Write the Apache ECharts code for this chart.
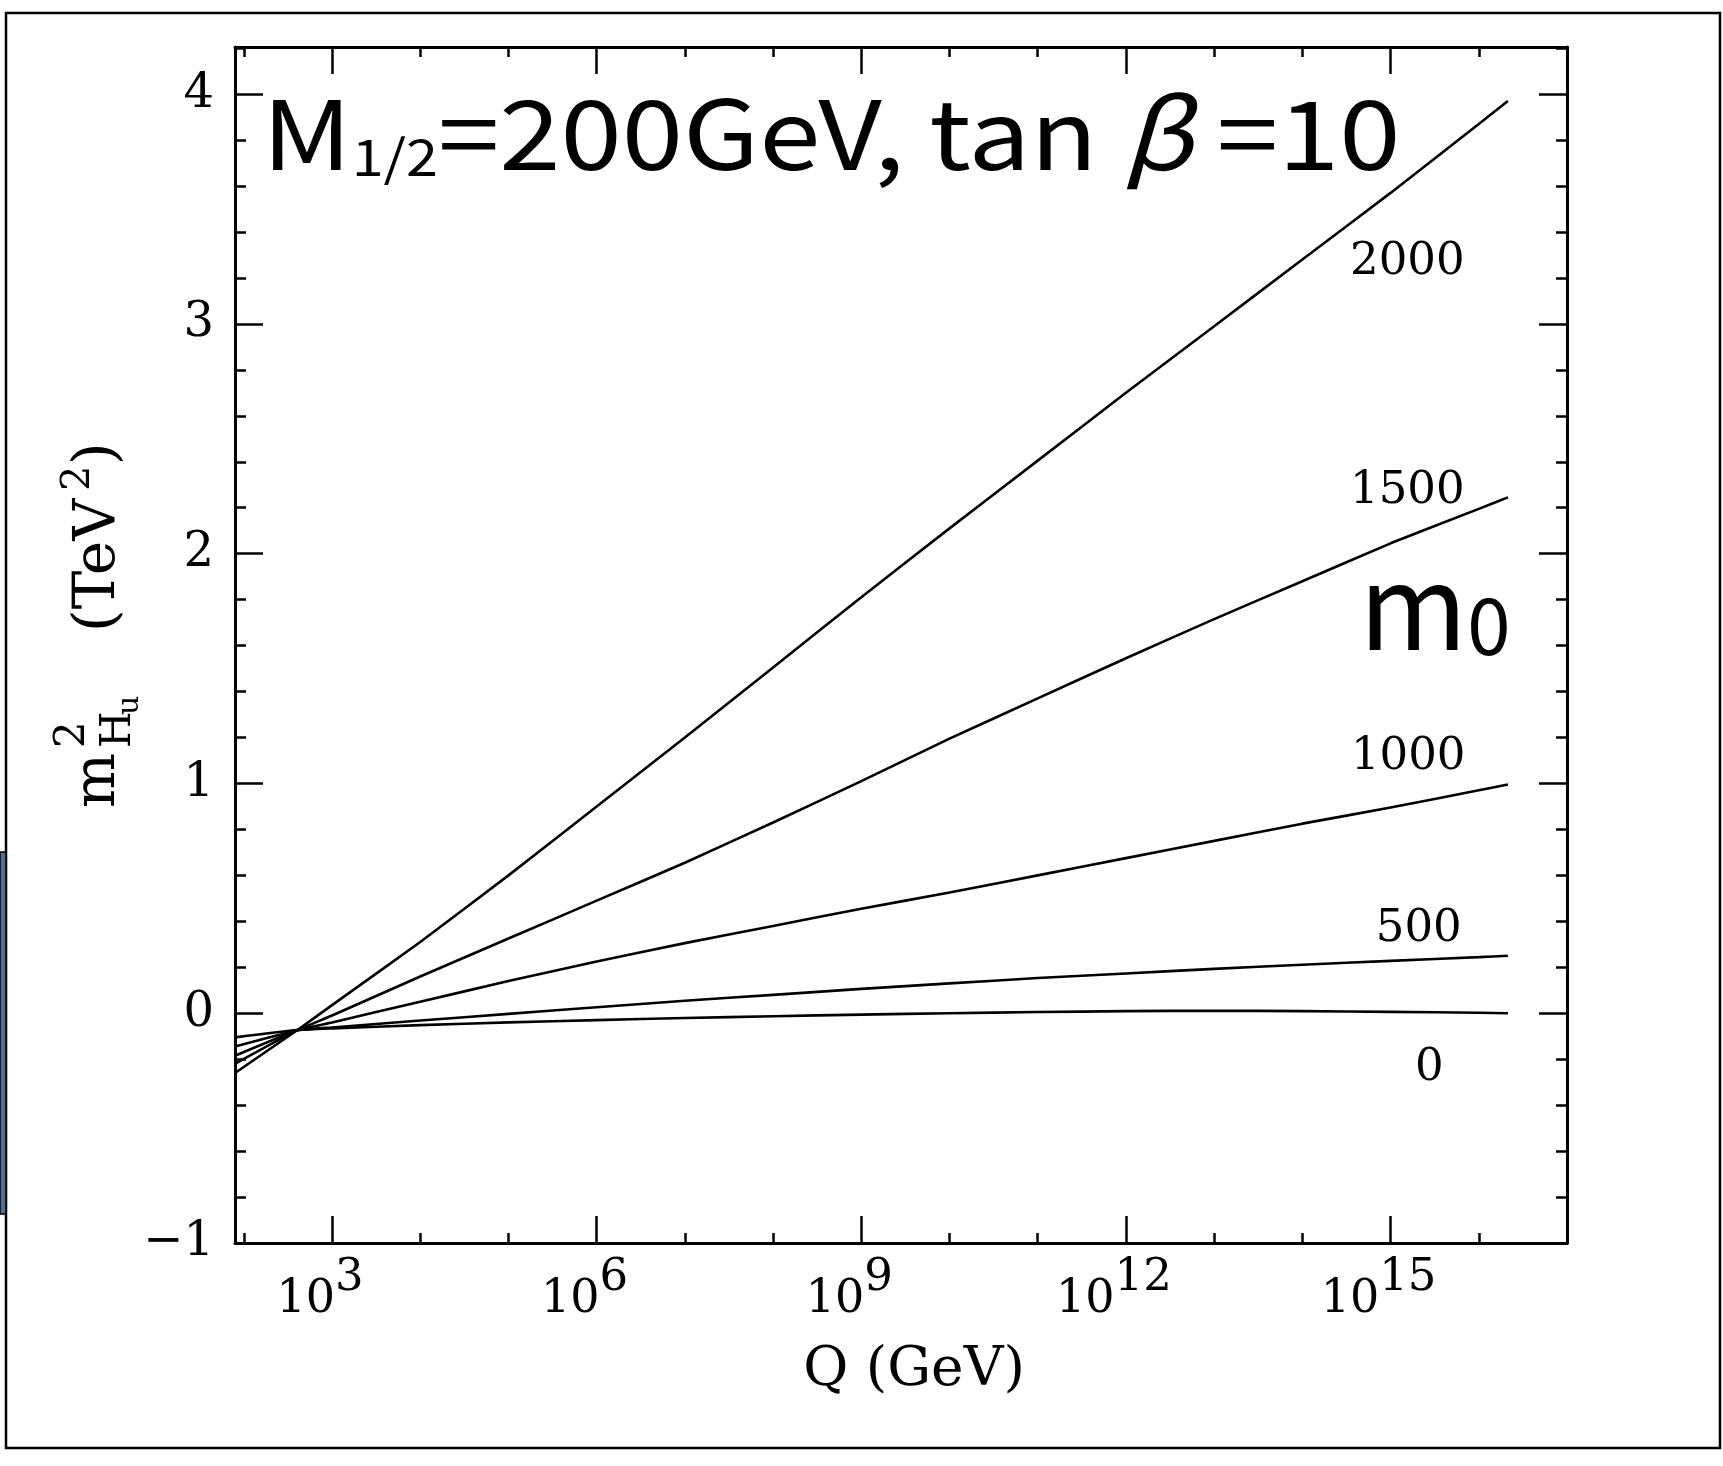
<!DOCTYPE html>
<html>
<head>
<meta charset="utf-8">
<script src="https://cdn.jsdelivr.net/npm/echarts@6/dist/echarts.min.js"></script>
<style>
  html, body { margin: 0; padding: 0; background: #fff; }
  #chart { width: 1723px; height: 1466px; }
</style>
</head>
<body>
<div id="chart"></div>
<script>
// Renormalisation-group running of m_Hu^2 (TeV^2) versus log10(Q / GeV)
// for several universal scalar masses m0 (GeV).
const logQ = [1.9, 2.6, 3, 4, 5, 6, 7, 8, 9, 10, 11, 12, 13, 14, 15, 16, 16.33];

const m0Names = ['2000', '1500', '1000', '500', '0'];

const mHu2_m0_2000 = [-0.26, -0.075, 0.035, 0.31, 0.60, 0.90, 1.20, 1.505, 1.81, 2.11, 2.405, 2.70, 2.99, 3.28, 3.57, 3.87, 3.97];
const mHu2_m0_1500 = [-0.22, -0.075, -0.01, 0.16, 0.325, 0.49, 0.655, 0.83, 1.01, 1.195, 1.37, 1.545, 1.715, 1.88, 2.045, 2.195, 2.245];
const mHu2_m0_1000 = [-0.185, -0.075, -0.04, 0.05, 0.14, 0.225, 0.305, 0.38, 0.455, 0.525, 0.60, 0.675, 0.75, 0.825, 0.895, 0.97, 0.995];
const mHu2_m0_500  = [-0.145, -0.075, -0.062, -0.032, -0.003, 0.026, 0.054, 0.08, 0.106, 0.13, 0.153, 0.173, 0.193, 0.211, 0.228, 0.244, 0.25];
const mHu2_m0_0    = [-0.105, -0.073, -0.066, -0.052, -0.04, -0.03, -0.021, -0.013, -0.006, 0.0, 0.005, 0.009, 0.011, 0.009, 0.006, 0.002, 0.0];

const curves = [mHu2_m0_2000, mHu2_m0_1500, mHu2_m0_1000, mHu2_m0_500, mHu2_m0_0];

// where each m0 value is written next to its curve (log10 Q, m_Hu^2)
const curveLabelLogQ = [15.19, 15.19, 15.2, 15.32, 15.44];
const curveLabelValue = [3.27, 2.27, 1.115, 0.367, -0.24];

// axis ticks (x in decades of Q)
const xMajorTicks = [3, 6, 9, 12, 15];
const xMinorTicks = [2, 4, 5, 7, 8, 10, 11, 13, 14, 16];
const yMajorTicks = [-1, 0, 1, 2, 3, 4];
const yMinorTicks = [-0.8, -0.6, -0.4, -0.2, 0.2, 0.4, 0.6, 0.8, 1.2, 1.4, 1.6, 1.8,
                     2.2, 2.4, 2.6, 2.8, 3.2, 3.4, 3.6, 3.8, 4.2];

const X_MIN = 1.9, X_MAX = 17, Y_MIN = -1, Y_MAX = 4.205;

const SERIF = '"DejaVu Serif", "Liberation Serif", serif';
const SANS = '"Noto Sans CJK JP", "Noto Sans", sans-serif';
const INK = '#000';

function xAxisDef(position, ticks, tickLen, showLine, extra) {
  return Object.assign({
    type: 'value', gridIndex: 0, position: position,
    min: X_MIN, max: X_MAX,
    axisLine: { show: showLine, onZero: false, lineStyle: { color: INK, width: 3 } },
    axisTick: { show: true, inside: true, length: tickLen, customValues: ticks,
                lineStyle: { color: INK, width: 2.5 } },
    axisLabel: { show: false },
    splitLine: { show: false }
  }, extra || {});
}

function yAxisDef(position, ticks, tickLen, showLine, extra) {
  return Object.assign({
    type: 'value', gridIndex: 0, position: position,
    min: Y_MIN, max: Y_MAX,
    axisLine: { show: showLine, onZero: false, lineStyle: { color: INK, width: 3 } },
    axisTick: { show: true, inside: true, length: tickLen, customValues: ticks,
                lineStyle: { color: INK, width: 2.5 } },
    axisLabel: { show: false },
    splitLine: { show: false }
  }, extra || {});
}

const xAxes = [
  xAxisDef('bottom', xMajorTicks, 27, true, {
    name: 'Q (GeV)', nameLocation: 'middle', nameGap: 100,
    nameTextStyle: { fontFamily: SERIF, fontSize: 55, color: INK, padding: [0, 0, 0, 26] }
  }),
  xAxisDef('bottom', xMinorTicks, 10, false),
  xAxisDef('top', xMajorTicks, 27, true),
  xAxisDef('top', xMinorTicks, 10, false)
];

const yAxes = [
  yAxisDef('left', yMajorTicks, 28, true, {
    axisLabel: {
      show: true, customValues: yMajorTicks, margin: 21,
      fontFamily: SERIF, fontSize: 48, color: INK,
      formatter: v => (v < 0 ? '\u2212' + (-v) : String(v))
    }
  }),
  yAxisDef('left', yMinorTicks, 11, false),
  yAxisDef('right', yMajorTicks, 28, true),
  yAxisDef('right', yMinorTicks, 11, false)
];

const lineSeries = curves.map((vals, i) => ({
  name: 'm0 = ' + m0Names[i],
  type: 'line',
  xAxisIndex: 0, yAxisIndex: 0,
  data: logQ.map((q, j) => [q, vals[j]]),
  showSymbol: false, symbol: 'none',
  smooth: 0.15,
  lineStyle: { color: INK, width: 2.6 },
  emphasis: { disabled: true },
  silent: true, clip: true, z: 3
}));

// invisible carrier points: only their labels are drawn
const HIDDEN = { color: 'rgba(0,0,0,0)', borderWidth: 0, opacity: 1 };
const LABEL_INK = { color: INK, opacity: 1, textBorderWidth: 0 };

const curveLabelSeries = {
  type: 'scatter',
  xAxisIndex: 0, yAxisIndex: 0,
  data: m0Names.map((n, i) => [curveLabelLogQ[i], curveLabelValue[i], n]),
  symbolSize: 1,
  itemStyle: HIDDEN,
  label: Object.assign({
    show: true, position: 'inside',
    formatter: p => p.data[2],
    fontFamily: SERIF, fontSize: 45
  }, LABEL_INK),
  silent: true, z: 4
};

// decade labels 10^n under the bottom axis: base "10" and raised exponent
const BASE_FS = 46, EXP_FS = 45;
function decadeLabelSeries(part) {
  return {
    type: 'scatter',
    xAxisIndex: 0, yAxisIndex: 0,
    clip: false,
    data: xMajorTicks.map(t => [t, Y_MIN]),
    symbolSize: 1,
    itemStyle: HIDDEN,
    label: Object.assign({
      show: true, position: 'inside',
      formatter: p => (part === 'base' ? '10' : String(p.data[0])),
      fontFamily: SERIF, fontSize: part === 'base' ? BASE_FS : EXP_FS
    }, LABEL_INK),
    labelLayout: p => {
      const t = xMajorTicks[p.dataIndex];
      const baseW = 2 * 0.636 * BASE_FS;
      const expW = String(t).length * 0.636 * EXP_FS;
      const left = -12 - (baseW + expW) / 2;
      const cx = part === 'base' ? left + baseW / 2 : left + baseW + expW / 2;
      return { dx: cx, dy: part === 'base' ? 57 : 35 };
    },
    silent: true, z: 4
  };
}

// text pieces of the rotated y-axis title
function serifPiece(t, along, fs, base) {
  return {
    type: 'text', x: along, y: base - 0.346 * fs,
    style: { text: t, font: fs + 'px ' + SERIF, fill: INK,
             align: 'left', textAlign: 'left',
             verticalAlign: 'middle', textVerticalAlign: 'middle' }
  };
}

const chart = echarts.init(document.getElementById('chart'), null, { renderer: 'canvas' });
chart.setOption({
  backgroundColor: '#fff',
  animation: false,
  grid: { left: 235, top: 47, right: 156, bottom: 223, containLabel: false, outerBoundsMode: 'none' },
  xAxis: xAxes,
  yAxis: yAxes,
  series: lineSeries.concat([curveLabelSeries, decadeLabelSeries('base'), decadeLabelSeries('exp')]),
  graphic: [
    // outer frame of the figure
    { type: 'rect', z: 0, silent: true,
      shape: { x: 6, y: 13, width: 1714, height: 1435 },
      style: { fill: 'none', stroke: INK, lineWidth: 2.5 } },
    // strip of the neighbouring panel at the left edge
    { type: 'rect', z: 0, silent: true,
      shape: { x: 0, y: 852, width: 6, height: 362 },
      style: { fill: '#5a6d86', stroke: INK, lineWidth: 1.5 } },
    // parameter line
    { type: 'text', x: 262, y: 86, scaleX: 1.15, z: 10, silent: true,
      style: {
        text: '{M|M}{s|1/2}{M|=200GeV, tan }{b|\u03B2}{M| =10}',
        fill: INK, align: 'left', verticalAlign: 'top',
        rich: {
          M: { fontFamily: SANS, fontSize: 96, lineHeight: 96, verticalAlign: 'bottom', fill: INK },
          s: { fontFamily: SANS, fontSize: 50, lineHeight: 61, verticalAlign: 'bottom', fill: INK },
          b: { fontFamily: SANS, fontSize: 96, lineHeight: 96, verticalAlign: 'bottom',
               fontStyle: 'italic', fill: INK }
        }
      } },
    // m0 annotation
    { type: 'text', x: 1359, y: 547, z: 10, silent: true,
      style: {
        text: '{m|m}{z|0}',
        fill: INK, align: 'left', verticalAlign: 'top',
        rich: {
          m: { fontFamily: SANS, fontSize: 117, lineHeight: 117, verticalAlign: 'bottom', fill: INK },
          z: { fontFamily: SANS, fontSize: 78, lineHeight: 82, verticalAlign: 'bottom', fill: INK }
        }
      } },
    // y-axis title, reading upward
    { type: 'group', x: 119, y: 808, rotation: Math.PI / 2, z: 10, silent: true,
      children: [
        serifPiece('m', 0, 58, 0),
        serifPiece('2', 60, 42, -31),
        serifPiece('H', 60, 42, 15),
        serifPiece('u', 93, 30, 22),
        serifPiece('(TeV', 176, 58, 0),
        serifPiece('2', 317, 40, -27),
        serifPiece(')', 343, 58, 0)
      ] }
  ]
});
</script>
</body>
</html>
